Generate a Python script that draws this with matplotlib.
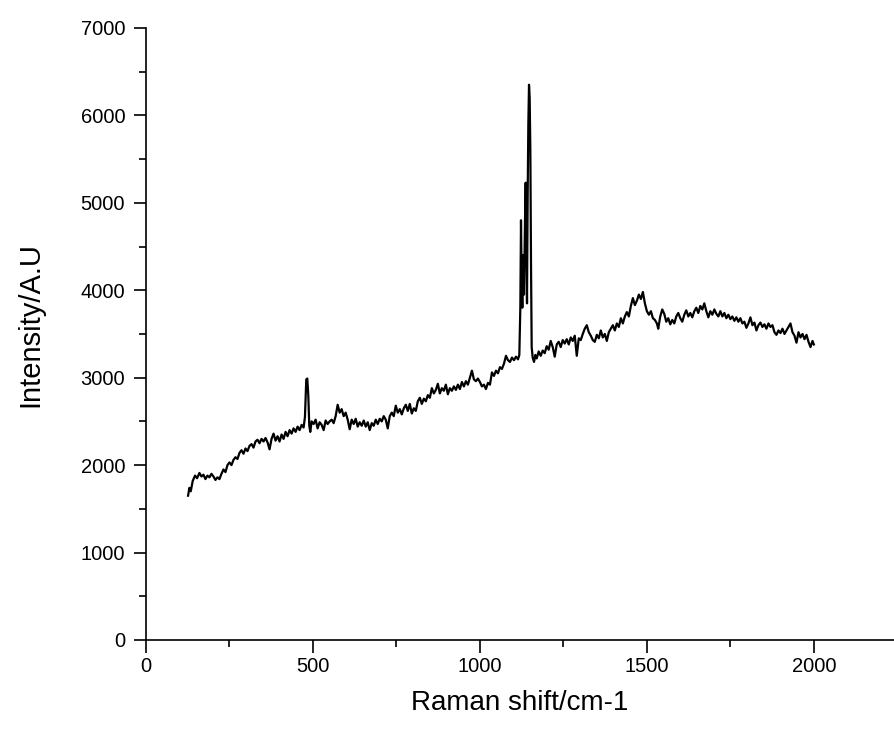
import matplotlib
matplotlib.use("Agg")
import matplotlib.pyplot as plt
from matplotlib.ticker import MultipleLocator

plt.rcParams["font.family"] = ["Liberation Sans", "DejaVu Sans"]

# Raman shift (cm-1) and intensity
raman_shift = [
    126, 130, 134, 140, 147, 153, 160, 166, 172, 178, 184, 190, 196, 202, 208,
    214, 220, 226, 232, 238, 244, 250, 256, 262, 268, 274, 280, 286, 292, 298,
    304, 310, 316, 322, 328, 334, 340, 346, 352, 358, 364, 370, 376, 382, 388,
    394, 400, 406, 412, 418, 424, 430, 436, 442, 448, 454, 460, 466, 472, 476,
    480, 483, 486, 489, 492, 496, 502, 508, 514, 520, 526, 532, 538, 544, 550,
    556, 562, 568, 574, 580, 586, 592, 598, 604, 610, 616, 622, 628, 634, 640,
    646, 652, 658, 664, 670, 676, 682, 688, 694, 700, 706, 712, 718, 724, 730,
    736, 742, 748, 754, 760, 766, 772, 778, 784, 790, 796, 802, 808, 814, 820,
    826, 832, 838, 844, 850, 856, 862, 868, 874, 880, 886, 892, 898, 904, 910,
    916, 922, 928, 934, 940, 946, 952, 958, 964, 970, 976, 982, 988, 994, 1000,
    1006, 1012, 1018, 1024, 1030, 1036, 1042, 1048, 1054, 1060, 1066, 1072,
    1078, 1084, 1090, 1096, 1102, 1108, 1114, 1118, 1121, 1123, 1125, 1127,
    1129, 1132, 1135, 1137, 1139, 1141, 1143, 1145, 1147, 1149, 1151, 1153,
    1155, 1158, 1162, 1166, 1170, 1176, 1182, 1188, 1194, 1200, 1206, 1212,
    1218, 1224, 1230, 1236, 1242, 1248, 1254, 1260, 1266, 1272, 1278, 1284,
    1290, 1296, 1302, 1308, 1314, 1320, 1326, 1332, 1338, 1344, 1350, 1356,
    1362, 1368, 1374, 1380, 1386, 1392, 1398, 1404, 1410, 1416, 1422, 1428,
    1434, 1440, 1446, 1452, 1458, 1464, 1470, 1476, 1482, 1488, 1494, 1500,
    1506, 1512, 1518, 1524, 1530, 1534, 1540, 1546, 1552, 1558, 1564, 1570,
    1576, 1582, 1588, 1594, 1600, 1606, 1612, 1618, 1624, 1630, 1636, 1642,
    1648, 1654, 1660, 1666, 1672, 1678, 1684, 1690, 1696, 1702, 1708, 1714,
    1720, 1726, 1732, 1738, 1744, 1750, 1756, 1762, 1768, 1774, 1780, 1786,
    1792, 1798, 1804, 1810, 1816, 1822, 1828, 1834, 1840, 1846, 1852, 1858,
    1864, 1870, 1876, 1882, 1888, 1894, 1900, 1906, 1912, 1918, 1924, 1930,
    1936, 1942, 1948, 1954, 1960, 1966, 1972, 1978, 1984, 1990, 1996, 2000,
]
intensity = [
    1650, 1740, 1700, 1820, 1880, 1850, 1910, 1870, 1890, 1840, 1880, 1860, 1900, 1870, 1830,
    1860, 1840, 1900, 1950, 1920, 2000, 2030, 2000, 2060, 2090, 2070, 2140, 2170, 2130, 2190,
    2160, 2220, 2240, 2200, 2270, 2290, 2250, 2300, 2270, 2310, 2260, 2180, 2300, 2360, 2280,
    2330, 2270, 2350, 2300, 2380, 2330, 2400, 2360, 2420, 2380, 2440, 2400, 2460, 2430, 2550,
    2980, 2990, 2800, 2450, 2380, 2500, 2470, 2520, 2420, 2490, 2460, 2400, 2510, 2470, 2500,
    2520, 2480, 2560, 2690, 2600, 2640, 2560, 2600, 2520, 2410, 2520, 2470, 2530, 2440, 2490,
    2450, 2510, 2440, 2490, 2400, 2480, 2450, 2520, 2470, 2530, 2500, 2560, 2520, 2420, 2560,
    2600, 2560, 2680, 2600, 2640, 2580, 2650, 2690, 2620, 2700, 2590, 2650, 2620, 2730, 2770,
    2700, 2760, 2730, 2800, 2770, 2880, 2820, 2860, 2930, 2820, 2880, 2850, 2920, 2810, 2880,
    2850, 2900, 2860, 2920, 2870, 2950, 2900, 2960, 2920, 3000, 3080, 2980, 2960, 2990, 2950,
    2900, 2920, 2870, 2940, 2920, 3060, 3020, 3080, 3050, 3120, 3100, 3160,
    3250, 3200, 3180, 3230, 3200, 3240, 3210, 3260, 3800, 4800, 4100, 3800,
    4400, 3950, 4800, 5230, 4500, 3850, 5100, 5900, 6350, 6200, 5600, 4300,
    3350, 3230, 3180, 3260, 3220, 3300, 3250, 3310, 3280, 3360, 3320, 3420,
    3350, 3240, 3380, 3410, 3350, 3430, 3390, 3440, 3380, 3460, 3420, 3480,
    3250, 3450, 3430, 3500, 3560, 3600, 3520, 3480, 3430, 3410, 3490, 3450,
    3540, 3460, 3500, 3420, 3520, 3560, 3600, 3540, 3620, 3580, 3680, 3620,
    3700, 3750, 3700, 3820, 3910, 3830, 3880, 3950, 3900, 3980, 3850, 3760,
    3720, 3760, 3680, 3660, 3620, 3560, 3700, 3780, 3730, 3640, 3680, 3610,
    3660, 3620, 3700, 3740, 3680, 3640, 3720, 3770, 3700, 3740, 3690, 3760,
    3800, 3740, 3820, 3780, 3850, 3760, 3690, 3760, 3720, 3780, 3730, 3700,
    3760, 3700, 3740, 3680, 3720, 3670, 3700, 3650, 3690, 3640, 3680, 3620,
    3640, 3570, 3620, 3690, 3600, 3630, 3540, 3600, 3630, 3580, 3610, 3560,
    3620, 3580, 3600, 3520, 3490, 3540, 3510, 3560, 3500, 3540, 3580, 3620,
    3520, 3480, 3400, 3520, 3460, 3500, 3440, 3490, 3410, 3350, 3420, 3380,
]

fig = plt.figure(figsize=(8.94, 7.35), dpi=100)
ax = fig.add_axes([0.1633, 0.1293, 0.8367, 0.8327])
ax.plot(raman_shift, intensity, color="black", linewidth=1.6)

ax.set_xlim(0, 2240)
ax.set_ylim(0, 7000)
ax.xaxis.set_major_locator(MultipleLocator(500))
ax.xaxis.set_minor_locator(MultipleLocator(250))
ax.yaxis.set_major_locator(MultipleLocator(1000))
ax.yaxis.set_minor_locator(MultipleLocator(500))

for side in ("top", "right"):
    ax.spines[side].set_visible(False)
for side in ("left", "bottom"):
    ax.spines[side].set_linewidth(1.2)

ax.tick_params(which="major", direction="out", length=9, width=1.2, labelsize=14.5)
ax.tick_params(axis="y", which="major", pad=6)
ax.tick_params(which="minor", direction="out", length=5, width=1.2)

ax.set_xlabel("Raman shift/cm-1", fontsize=20)
ax.set_ylabel("Intensity/A.U", fontsize=21)
ax.xaxis.set_label_coords(0.5, -0.082)
ax.yaxis.set_label_coords(-0.136, 0.516)

fig.savefig("out.png", dpi=100)
